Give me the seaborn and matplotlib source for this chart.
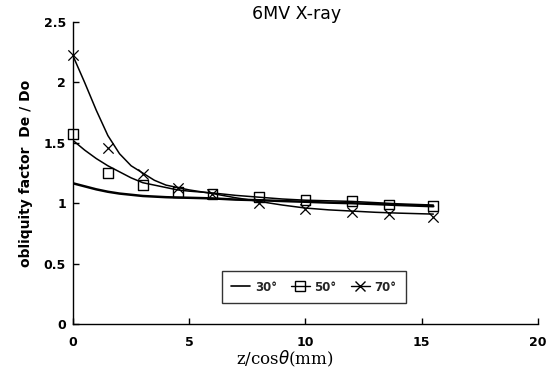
import matplotlib
matplotlib.use("Agg")
import matplotlib.pyplot as plt
from matplotlib.lines import Line2D
import seaborn as sns
import pandas as pd

# measured points
x_meas = [0, 1.5, 3, 4.5, 6, 8, 10, 12, 13.6, 15.5]
y50_meas = [1.575, 1.25, 1.15, 1.09, 1.075, 1.05, 1.025, 1.017, 0.99, 0.98]
y70_meas = [2.23, 1.46, 1.24, 1.13, 1.08, 1.0, 0.95, 0.925, 0.91, 0.89]

# fitted curves
x_curve = [0, 0.5, 1, 1.5, 2, 2.5, 3, 3.5, 4, 4.5, 5, 6, 7, 8, 9, 10, 11, 12, 13, 14, 15.5]
y30_curve = [1.165, 1.14, 1.115, 1.095, 1.08, 1.07, 1.06, 1.055, 1.05, 1.047, 1.045,
             1.04, 1.03, 1.025, 1.018, 1.012, 1.005, 1.0, 0.993, 0.985, 0.975]
y50_curve = [1.52, 1.44, 1.37, 1.31, 1.26, 1.21, 1.17, 1.15, 1.13, 1.11, 1.10,
             1.085, 1.065, 1.05, 1.035, 1.025, 1.02, 1.015, 1.005, 0.995, 0.985]
y70_curve = [2.22, 2.0, 1.77, 1.56, 1.41, 1.31, 1.25, 1.19, 1.15, 1.13, 1.11,
             1.08, 1.045, 1.015, 0.985, 0.96, 0.945, 0.935, 0.925, 0.918, 0.91]

labels = ["30°", "50°", "70°"]
x_ticks = [0, 5, 10, 15, 20]
y_ticks = [0, 0.5, 1, 1.5, 2, 2.5]
y_tick_labels = ["0", "0.5", "1", "1.5", "2", "2.5"]

sns.set_style("ticks")
plt.rcParams['font.family'] = ['DejaVu Sans']

fig = plt.figure(figsize=(5.54, 3.68), dpi=100)
ax = fig.add_axes([0.1318, 0.1196, 0.8392, 0.8204])

curves = pd.DataFrame({"x": x_curve, "y30": y30_curve, "y50": y50_curve, "y70": y70_curve})
meas = pd.DataFrame({"x": x_meas, "y50": y50_meas, "y70": y70_meas})

sns.lineplot(data=curves, x="x", y="y30", ax=ax, color="black", lw=1.8)
sns.lineplot(data=curves, x="x", y="y50", ax=ax, color="black", lw=1.1)
sns.lineplot(data=curves, x="x", y="y70", ax=ax, color="black", lw=1.1)
ax.scatter(meas["x"], meas["y50"], marker="s", s=50, facecolors="none",
           edgecolors="black", linewidths=1.0, zorder=3, clip_on=False)
ax.scatter(meas["x"], meas["y70"], marker="x", s=55, color="black",
           linewidths=0.9, zorder=3, clip_on=False)

ax.set_xlim(0, 20)
ax.set_ylim(0, 2.5)
ax.set_xticks(x_ticks)
ax.set_xticklabels([str(t) for t in x_ticks], fontweight="bold", fontsize=9, color="black")
ax.set_yticks(y_ticks)
ax.set_yticklabels(y_tick_labels, fontweight="bold", fontsize=9, color="black")
ax.tick_params(direction="in", length=4, width=1, colors="black")
ax.tick_params(axis="x", pad=9)
ax.tick_params(axis="y", pad=5)
sns.despine(ax=ax)
for s in ["left", "bottom"]:
    ax.spines[s].set_linewidth(1.0)
    ax.spines[s].set_color("black")

fig.text(297 / 554, 1 - 19 / 368, "6MV X-ray", fontsize=12.5, ha="center",
         va="baseline", color="black")
ax.set_ylabel("obliquity factor  De / Do", fontweight="bold", fontsize=10,
              labelpad=8, color="black")
ax.set_xlabel(r"z/cos$\theta$(mm)", family="DejaVu Serif", fontsize=12, color="black")
ax.xaxis.set_label_coords((285 - 73) / 465, (324 - 359) / 302)
ax.xaxis.label.set_verticalalignment("center")

handles = [
    Line2D([], [], color="black", lw=1.2),
    Line2D([], [], color="black", lw=1.0, marker="s", markerfacecolor="none", markersize=6.5),
    Line2D([], [], color="black", lw=1.0, marker="x", markersize=6.5),
]
leg = ax.legend(handles, labels, ncol=3, loc="lower left", bbox_to_anchor=(0.307, 0.05),
                frameon=True, fancybox=False, edgecolor="black", handlelength=1.6,
                handletextpad=0.4, columnspacing=1.2,
                prop={"weight": "bold", "size": 8.5}, borderpad=0.8)
leg.get_frame().set_linewidth(1.0)

fig.savefig("out.png", dpi=100)
